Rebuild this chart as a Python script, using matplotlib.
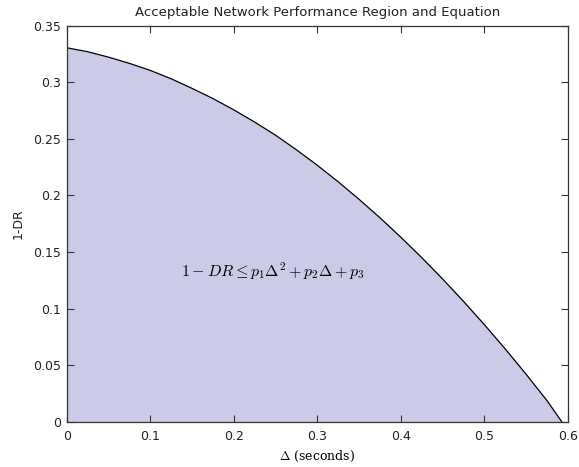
import matplotlib
matplotlib.use("Agg")
import matplotlib.pyplot as plt

# values
delta = [0.0, 0.025, 0.05, 0.075, 0.10, 0.125, 0.15, 0.175, 0.20, 0.225, 0.25, 0.275,
         0.30, 0.325, 0.35, 0.375, 0.40, 0.425, 0.45, 0.475, 0.50, 0.525, 0.55, 0.575, 0.5925]
one_minus_dr = [0.3305, 0.3270, 0.3222, 0.3167, 0.3105, 0.3031, 0.2946, 0.2856, 0.2756,
                0.2648, 0.2532, 0.2403, 0.2266, 0.2120, 0.1965, 0.1802, 0.1630, 0.1450,
                0.1261, 0.1063, 0.0857, 0.0642, 0.0418, 0.0185, 0.0]

x_ticks = [0, 0.1, 0.2, 0.3, 0.4, 0.5, 0.6]
y_ticks = [0, 0.05, 0.1, 0.15, 0.2, 0.25, 0.3, 0.35]

plt.rcParams["font.family"] = ["DejaVu Sans"]
plt.rcParams["mathtext.fontset"] = "cm"

fig = plt.figure(figsize=(5.79, 4.67), dpi=100)
ax = fig.add_axes([0.1152, 0.097, 0.8658, 0.848])

ax.fill_between(delta, one_minus_dr, 0, color="#cbcbe8", linewidth=0)
ax.plot(delta, one_minus_dr, color="black", linewidth=0.9)

ax.set_xlim(0, 0.6)
ax.set_ylim(0, 0.35)
ax.set_xticks(x_ticks)
ax.set_xticklabels([f"{t:g}" for t in x_ticks])
ax.set_yticks(y_ticks)
ax.set_yticklabels([f"{t:g}" for t in y_ticks])
ax.tick_params(direction="in", top=True, right=True, length=5, width=0.8,
               labelsize=9, colors="#333333", labelcolor="#222222")
ax.tick_params(axis="x", pad=6)
ax.tick_params(axis="y", pad=4)
for s in ax.spines.values():
    s.set_color("#333333")
    s.set_linewidth(0.9)

ax.set_title("Acceptable Network Performance Region and Equation", fontsize=9.5, pad=7,
             color="#222222")
ax.set_xlabel(r"$\Delta$ (seconds)", fontsize=9, family="serif", labelpad=4)
ax.set_ylabel("1-DR", fontsize=9, color="#222222", labelpad=6)

ax.text(0.2465, 0.1325, r"$1 - DR \leq p_1\Delta^2 + p_2\Delta + p_3$",
        ha="center", va="center", fontsize=11.5)

fig.savefig("out.png", dpi=100)
